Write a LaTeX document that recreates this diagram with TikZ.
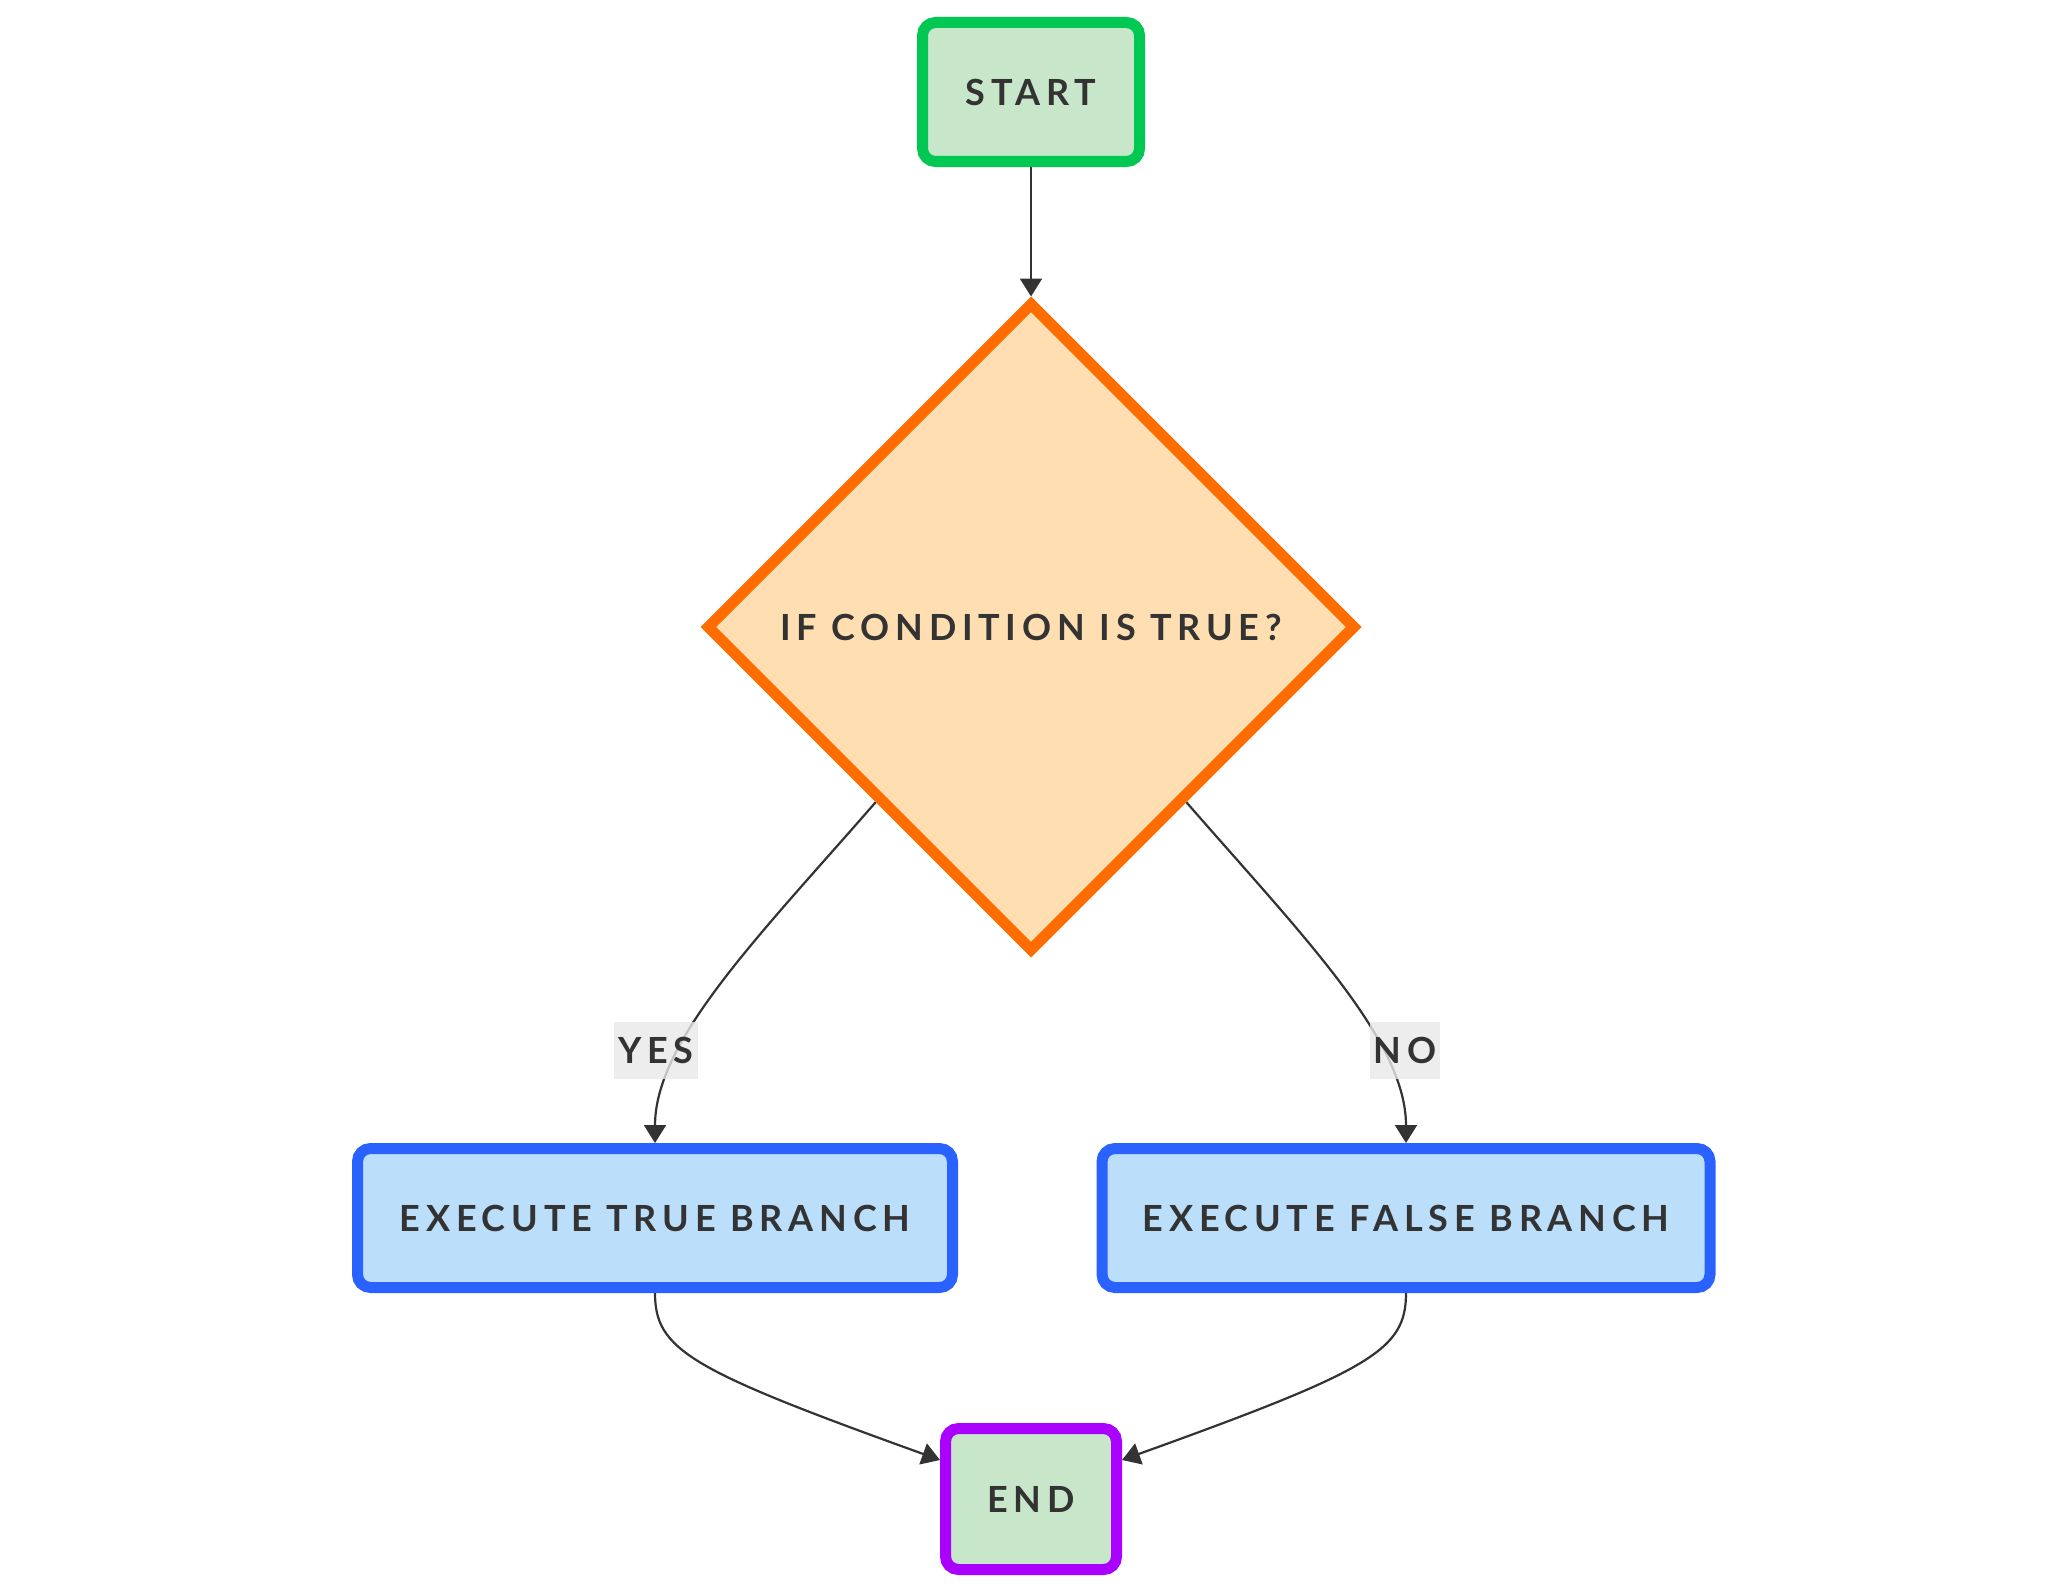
\documentclass[tikz,border=0pt]{standalone}
\usepackage{fontspec}
\setmainfont{Lato}[LetterSpace=16]
\usetikzlibrary{arrows.meta,shapes.geometric,backgrounds,calc}
\definecolor{txt}{HTML}{333333}
\definecolor{gstroke}{HTML}{00C853}
\definecolor{gfill}{HTML}{C8E6C9}
\definecolor{ostroke}{HTML}{FF6D00}
\definecolor{ofill}{HTML}{FFDFB2}
\definecolor{bstroke}{HTML}{2962FF}
\definecolor{bfill}{HTML}{BBDEFB}
\definecolor{pstroke}{HTML}{AA00FF}
\definecolor{lblfill}{HTML}{E8E8E8}
\begin{document}
\begin{tikzpicture}[x=1pt,y=-1pt,
  every node/.style={font=\fontsize{36}{43}\selectfont\bfseries, text=txt},
  boxnode/.style={rectangle, rounded corners=13pt, line width=11pt, inner sep=0pt},
  startbox/.style={boxnode, draw=gstroke, fill=gfill, minimum width=217pt, minimum height=139pt},
  endbox/.style={boxnode, draw=pstroke, fill=gfill, minimum width=171pt, minimum height=141pt},
  branchbox/.style={boxnode, draw=bstroke, fill=bfill, minimum height=139pt},
  decision/.style={diamond, draw=ostroke, fill=ofill, line width=11pt, inner sep=0pt, minimum width=650pt, minimum height=650pt},
  conn/.style={draw=txt, line width=2.2pt, -{Triangle[length=18pt,width=22pt]}},
  edgelabel/.style={fill=lblfill, fill opacity=0.8, text opacity=1, inner xsep=4pt, inner ysep=0pt, minimum height=57pt}
]
\useasboundingbox (0,0) rectangle (2072,1592);
\node[startbox] (start) at (1031,92) {START};
\node[decision] (dia) at (1031,627) {IF CONDITION IS TRUE?};
\node[branchbox, minimum width=595pt] (tb) at (655,1218) {EXECUTE TRUE BRANCH};
\node[branchbox, minimum width=608pt] (fb) at (1406,1218) {EXECUTE FALSE BRANCH};
\node[endbox] (end) at (1031,1499) {END};
\coordinate (endl) at ([yshift=39pt]end.west);
\coordinate (endr) at ([yshift=39pt]end.east);
\coordinate (dl) at ($(dia.south west)!0.06!(dia.south)$);
\coordinate (dr) at ($(dia.south east)!0.06!(dia.south)$);
\begin{pgfonlayer}{background}
\draw[conn] (start.south) -- (dia.north);
\draw[conn] (dl) .. controls (760,935) and (655,1040) .. (tb.north);
\draw[conn] (dr) .. controls (1302,935) and (1406,1040) .. (fb.north);
\draw[conn] (tb.south) .. controls (655,1350) and (690,1370) .. (endl);
\draw[conn] (fb.south) .. controls (1406,1350) and (1372,1370) .. (endr);
\end{pgfonlayer}
\node[edgelabel] (yes) at (656,1050) {YES};
\node[edgelabel] (no) at (1405,1050) {NO};
\end{tikzpicture}
\end{document}
